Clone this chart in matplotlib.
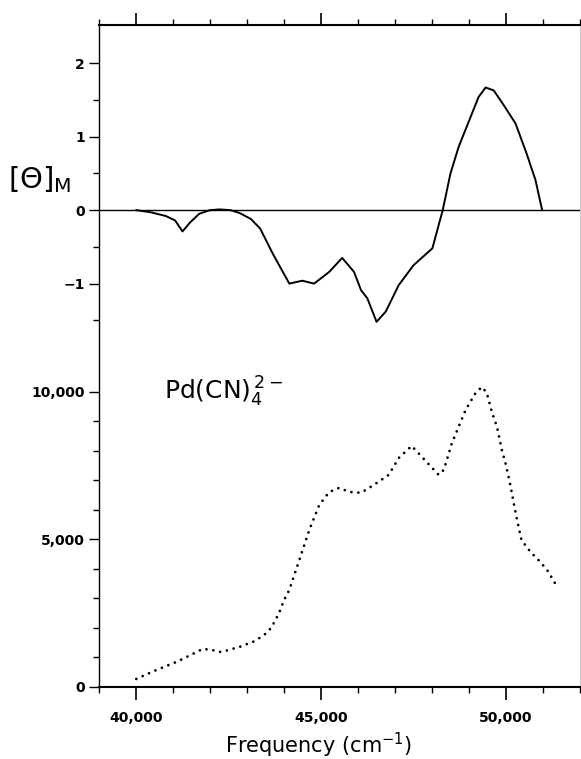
import numpy as np
import matplotlib
matplotlib.use("Agg")
import matplotlib.pyplot as plt
from matplotlib.ticker import FixedLocator, MultipleLocator

# CD spectrum, [theta]_M vs frequency (solid line)
cd_freq = [40000, 40400, 40800, 41050, 41250, 41450, 41700, 41990, 42250, 42550,
           42800, 43100, 43350, 43700, 44140, 44490, 44810, 45220, 45570, 45890,
           46080, 46250, 46500, 46750, 47100, 47500, 48010, 48290, 48500, 48720,
           48990, 49260, 49450, 49670, 49940, 50260, 50560, 50800, 50980]
cd_vals = [0.0, -0.03, -0.08, -0.14, -0.29, -0.17, -0.05, 0.0, 0.01, 0.0,
           -0.04, -0.12, -0.25, -0.6, -1.0, -0.96, -1.0, -0.84, -0.65, -0.84,
           -1.09, -1.2, -1.52, -1.38, -1.02, -0.75, -0.52, 0.0, 0.5, 0.86,
           1.2, 1.54, 1.67, 1.63, 1.43, 1.18, 0.77, 0.41, 0.0]

# absorption spectrum, epsilon vs frequency (dotted line)
abs_freq = [40000, 40500, 41090, 41500, 41800, 42050, 42300, 42800, 43200, 43460,
            43650, 43860, 44000, 44140, 44410, 44680, 44950, 45220, 45490, 45760,
            46080, 46430, 46830, 47100, 47450, 47800, 48180, 48320, 48540, 48910,
            49180, 49350, 49480, 49620, 49760, 49890, 50000, 50130, 50210, 50290,
            50420, 50660, 50930, 51150, 51340]
abs_vals = [270, 550, 850, 1100, 1290, 1250, 1180, 1360, 1550, 1760,
            2000, 2500, 2950, 3290, 4300, 5320, 6170, 6610, 6750, 6610,
            6580, 6850, 7190, 7760, 8170, 7700, 7190, 7360, 8270, 9390,
            9970, 10170, 9970, 9320, 8810, 8030, 7530, 6780, 6240, 5730,
            4980, 4580, 4240, 3900, 3490]

fig = plt.figure(figsize=(5.81, 7.59), dpi=100)
pos = [0.171, 0.095, 0.827, 0.872]

ax = fig.add_axes(pos)
ax.plot(abs_freq, abs_vals, color="black", lw=2.0, linestyle=(0, (0.01, 2.5)),
        dash_capstyle="round")
ax.set_xlim(39000, 52000)
ax.set_ylim(0, 22440)
ax.set_yticks([0, 5000, 10000])
ax.set_yticklabels(["0", "5,000", "10,000"])
ax.yaxis.set_minor_locator(FixedLocator([1000, 2000, 3000, 4000, 6000, 7000, 8000, 9000]))
ax.set_xticks([40000, 45000, 50000])
ax.set_xticklabels(["40,000", "45,000", "50,000"])
ax.xaxis.set_minor_locator(MultipleLocator(1000))
ax.tick_params(axis="x", which="both", top=True, direction="out", labelsize=10)
ax.tick_params(axis="x", which="major", length=9, width=1.2, pad=8)
ax.tick_params(axis="x", which="minor", length=4, width=1)
ax.tick_params(axis="y", which="major", length=7, width=1, labelsize=10)
ax.tick_params(axis="y", which="minor", length=4, width=1)
for lab in ax.get_xticklabels() + ax.get_yticklabels():
    lab.set_fontweight("bold")
ax.spines["top"].set_linewidth(1.5)
ax.spines["bottom"].set_linewidth(1.5)
ax.spines["left"].set_linewidth(1.0)
ax.spines["right"].set_linewidth(0.6)
ax.spines["right"].set_color("#bbbbbb")

cd = fig.add_axes(pos, sharex=ax)
cd.patch.set_visible(False)
for s in cd.spines.values():
    s.set_visible(False)
cd.plot(cd_freq, cd_vals, color="black", lw=1.4)
cd.axhline(0, color="black", lw=1.0)
cd.set_ylim(-6.49, 2.52)
cd.set_yticks([-1, 0, 1, 2])
cd.set_yticklabels(["\u22121", "0", "1", "2"])
cd.yaxis.set_minor_locator(FixedLocator([-1.5, -0.5, 0.5, 1.5]))
cd.tick_params(axis="y", which="major", length=7, width=1, labelsize=10)
cd.tick_params(axis="y", which="minor", length=4, width=1)
cd.tick_params(axis="x", which="both", bottom=False, top=False, labelbottom=False)
for lab in cd.get_yticklabels():
    lab.set_fontweight("bold")

fig.text(0.068, 1 - 180 / 759, r"$[\Theta]_{\rm M}$", fontsize=21, ha="center", va="center")
ax.text(0.135, 0.445, r"Pd(CN)$_4^{\,2-}$", transform=ax.transAxes, fontsize=18,
        ha="left", va="center")
fig.text(0.548, 1 - 745 / 759, "Frequency (cm$^{-1}$)", fontsize=15, ha="center", va="center")

fig.savefig("out.png", dpi=100)
